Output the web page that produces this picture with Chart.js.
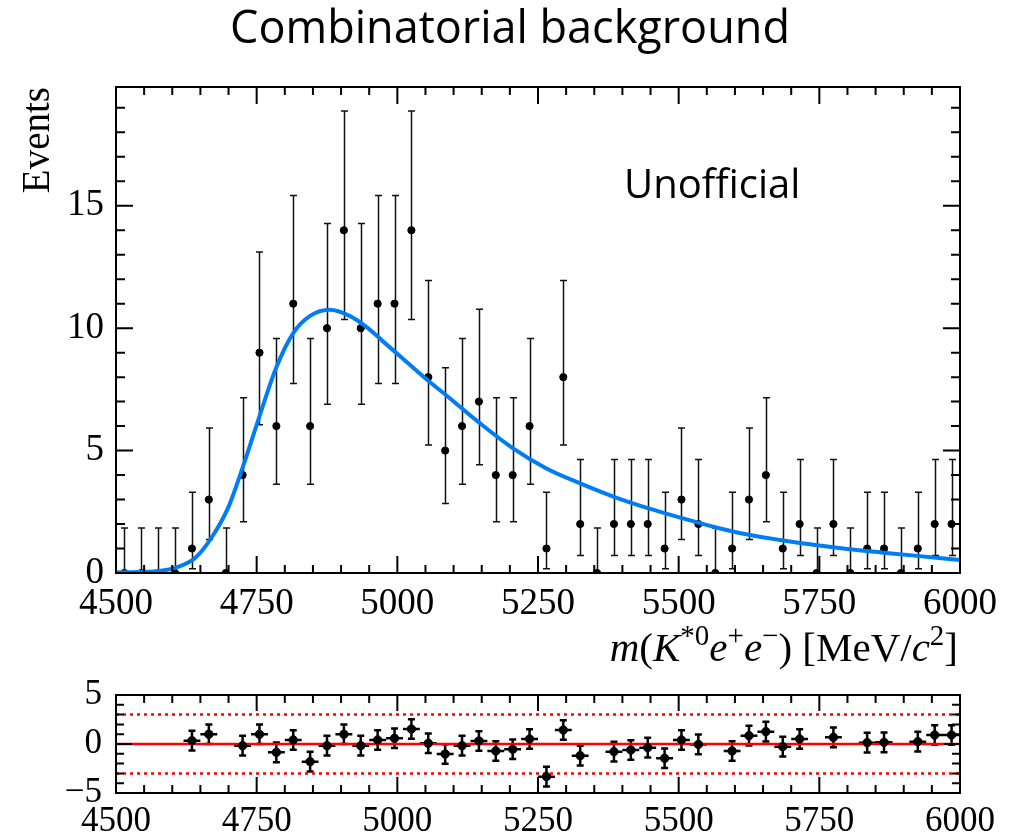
<!DOCTYPE html>
<html>
<head>
<meta charset="utf-8">
<script src="https://cdn.jsdelivr.net/npm/chart.js@4/dist/chart.umd.min.js"></script>
<style>
  body { margin: 0; background: #fff; width: 1020px; height: 834px; overflow: hidden; position: relative; }
  canvas { position: absolute; left: 0; }
  #top { top: 0; }
  #pull { top: 660px; }
</style>
</head>
<body>
<canvas id="top" width="1020" height="680"></canvas>
<canvas id="pull" width="1020" height="174"></canvas>
<script>
// bins of 30 MeV between 4500 and 6000
const binCenters = [4515, 4545, 4575, 4605, 4635, 4665, 4695, 4725, 4755, 4785,
                    4815, 4845, 4875, 4905, 4935, 4965, 4995, 5025, 5055, 5085,
                    5115, 5145, 5175, 5205, 5235, 5265, 5295, 5325, 5355, 5385,
                    5415, 5445, 5475, 5505, 5535, 5565, 5595, 5625, 5655, 5685,
                    5715, 5745, 5775, 5805, 5835, 5865, 5895, 5925, 5955, 5985];
const counts = [0, 0, 0, 0, 1, 3, 0, 4, 9, 6,
                11, 6, 10, 14, 10, 11, 11, 14, 8, 5,
                6, 7, 4, 4, 6, 1, 8, 2, 0, 2,
                2, 2, 1, 3, 2, 0, 1, 3, 4, 1,
                2, 0, 2, 0, 1, 1, 0, 1, 2, 2];
// lower / upper ends of the error bars
const errLow = [0, 0, 0, 0, 0.17, 1.37, 0, 2.09, 6.06, 3.62,
                7.74, 3.62, 6.89, 10.35, 6.89, 7.74, 7.74, 10.35, 5.23, 2.84,
                3.62, 4.42, 2.09, 2.09, 3.62, 0.17, 5.23, 0.71, 0, 0.71,
                0.71, 0.71, 0.17, 1.37, 0.71, 0, 0.17, 1.37, 2.09, 0.17,
                0.71, 0, 0.71, 0, 0.17, 0.17, 0, 0.17, 0.71, 0.71];
const errHigh = [1.84, 1.84, 1.84, 1.84, 3.30, 5.92, 1.84, 7.16, 13.11, 9.58,
                 15.42, 9.58, 14.27, 18.87, 14.27, 15.42, 15.42, 18.87, 11.95, 8.38,
                 9.58, 10.77, 7.16, 7.16, 9.58, 3.30, 11.95, 4.64, 1.84, 4.64,
                 4.64, 4.64, 3.30, 5.92, 4.64, 1.84, 3.30, 5.92, 7.16, 3.30,
                 4.64, 1.84, 4.64, 1.84, 3.30, 3.30, 1.84, 3.30, 4.64, 4.64];
const pulls = [null, null, null, null, 0.34, 0.99, null, -0.17, 0.99, -0.85,
               0.41, -1.8, -0.17, 0.99, -0.17, 0.41, 0.58, 1.53, 0.07, -1.02,
               -0.17, 0.31, -0.71, -0.54, 0.51, -3.33, 1.43, -1.19, null, -0.78,
               -0.61, -0.37, -1.46, 0.41, -0.04, null, -0.71, 0.85, 1.26, -0.27,
               0.51, null, 0.68, null, 0.14, 0.17, null, 0.24, 0.92, 0.92];
const fitMass = [4500, 4540, 4580, 4610, 4640, 4670, 4700, 4725, 4755, 4785,
                 4815, 4845, 4880, 4915, 4945, 4975, 5005, 5055, 5090, 5145,
                 5205, 5265, 5325, 5385, 5445, 5505, 5565, 5620, 5680, 5740,
                 5800, 5860, 5915, 6000];
const fitEvents = [0.02, 0.04, 0.09, 0.25, 0.6, 1.45, 2.7, 4.3, 6.4, 8.4,
                   9.8, 10.5, 10.75, 10.5, 10.05, 9.45, 8.85, 7.85, 7.2, 6.15,
                   5.1, 4.27, 3.66, 3.11, 2.65, 2.25, 1.87, 1.58, 1.35, 1.15,
                   0.98, 0.84, 0.72, 0.53];
const xTicks = [4500, 4750, 5000, 5250, 5500, 5750, 6000];
const yTicks = [0, 5, 10, 15];
const pullTicks = [-5, 0, 5];
const pullBand = 3;

const serif = 'Liberation Serif';
const plain = v => v < 0 ? '\u2212' + Math.abs(v) : String(v);

// inward ticks on all four sides plus the frame
const frameTicks = {
  id: 'frameTicks',
  afterDatasetsDraw(chart, args, o) {
    const { ctx, chartArea: a, scales: { x, y } } = chart;
    ctx.save();
    ctx.strokeStyle = '#000';
    ctx.lineWidth = 2;
    ctx.beginPath();
    const nx = Math.round((x.max - x.min) / o.xMinor);
    for (let i = 0; i <= nx; i++) {
      const px = x.getPixelForValue(x.min + i * o.xMinor);
      const len = i % o.xEvery === 0 ? o.xMajLen : o.xMinLen;
      ctx.moveTo(px, a.bottom); ctx.lineTo(px, a.bottom - len);
      ctx.moveTo(px, a.top); ctx.lineTo(px, a.top + len);
    }
    for (let v = Math.ceil(y.min); v <= y.max; v++) {
      const py = y.getPixelForValue(v);
      const len = v % o.yEvery === 0 ? o.yMajLen : o.yMinLen;
      ctx.moveTo(a.left, py); ctx.lineTo(a.left + len, py);
      ctx.moveTo(a.right, py); ctx.lineTo(a.right - len, py);
    }
    ctx.stroke();
    ctx.strokeRect(a.left, a.top, a.right - a.left, a.bottom - a.top);
    ctx.restore();
  }
};

const countBars = {
  id: 'countBars',
  beforeDatasetsDraw(chart) {
    const { ctx, chartArea: a, scales: { x, y } } = chart;
    ctx.save();
    ctx.beginPath();
    ctx.rect(a.left, a.top, a.right - a.left, a.bottom - a.top);
    ctx.clip();
    ctx.strokeStyle = '#111';
    ctx.lineWidth = 1.5;
    ctx.beginPath();
    binCenters.forEach((m, i) => {
      const px = Math.round(x.getPixelForValue(m)) + 0.5;
      const lo = y.getPixelForValue(errLow[i]);
      const hi = y.getPixelForValue(errHigh[i]);
      ctx.moveTo(px, lo); ctx.lineTo(px, hi);
      ctx.moveTo(px - 3.5, hi); ctx.lineTo(px + 3.5, hi);
      ctx.moveTo(px - 3.5, lo); ctx.lineTo(px + 3.5, lo);
    });
    ctx.stroke();
    ctx.restore();
  },
  afterDraw(chart) {
    const { ctx, scales: { x, y } } = chart;
    ctx.save();
    ctx.fillStyle = '#000';
    // watermark
    ctx.font = '40px "Open Sans"';
    ctx.textBaseline = 'alphabetic';
    ctx.fillText('Unofficial', x.getPixelForValue(5403), y.getPixelForValue(15.3));
    // axis title with italics and superscripts
    const size = 41;
    const parts = [
      ['m', 'italic'], ['(', ''], ['K', 'italic'], ['*0', 'sup'], ['e', 'italic'], ['+', 'sup'],
      ['e', 'italic'], ['\u2212', 'sup'], [') [MeV/', ''], ['c', 'italic'], ['2', 'sup'], [']', '']
    ];
    const fontFor = s => s === 'italic' ? `italic ${size}px ${serif}`
      : s === 'sup' ? `${Math.round(size * 0.7)}px ${serif}` : `${size}px ${serif}`;
    let w = 0;
    parts.forEach(([t, s]) => { ctx.font = fontFor(s); w += ctx.measureText(t).width; });
    let cx = 958 - w;
    const base = 661;
    parts.forEach(([t, s]) => {
      ctx.font = fontFor(s);
      ctx.fillText(t, cx, s === 'sup' ? base - size * 0.38 : base);
      cx += ctx.measureText(t).width;
    });
    ctx.restore();
  }
};

const pullBars = {
  id: 'pullBars',
  beforeDatasetsDraw(chart) {
    const { ctx, scales: { x, y } } = chart;
    ctx.save();
    ctx.strokeStyle = '#000';
    ctx.lineWidth = 2.5;
    ctx.beginPath();
    binCenters.forEach((m, i) => {
      if (pulls[i] === null) return;
      const px = x.getPixelForValue(m);
      const py = y.getPixelForValue(pulls[i]);
      const lo = y.getPixelForValue(pulls[i] - 1);
      const hi = y.getPixelForValue(pulls[i] + 1);
      ctx.moveTo(x.getPixelForValue(m - 15), py); ctx.lineTo(x.getPixelForValue(m + 15), py);
      ctx.moveTo(px, lo); ctx.lineTo(px, hi);
      ctx.moveTo(px - 3.5, lo); ctx.lineTo(px + 3.5, lo);
      ctx.moveTo(px - 3.5, hi); ctx.lineTo(px + 3.5, hi);
    });
    ctx.stroke();
    ctx.restore();
  }
};

const tickFont = { family: serif, size: 37 };
// empty right-hand axis, only reserves the margin so the title centres on the page
const spacer = {
  position: 'right', min: 0, max: 1,
  afterFit: s => { s.width = 60; },
  grid: { display: false, drawTicks: false },
  border: { display: false },
  ticks: { display: false }
};

new Chart(document.getElementById('top'), {
  type: 'scatter',
  data: {
    datasets: [
      {
        type: 'line',
        data: fitMass.map((m, i) => ({ x: m, y: fitEvents[i] })),
        borderColor: 'rgb(0,125,245)',
        borderWidth: 4,
        pointRadius: 0,
        cubicInterpolationMode: 'monotone',
        fill: false,
        order: 0
      },
      {
        data: binCenters.map((m, i) => ({ x: m, y: counts[i] })),
        backgroundColor: '#000',
        borderColor: '#000',
        pointRadius: 3.6,
        clip: 0,
        order: 1
      }
    ]
  },
  options: {
    responsive: false,
    animation: false,
    layout: { padding: 0 },
    plugins: {
      legend: { display: false },
      tooltip: { enabled: false },
      title: {
        display: true,
        text: 'Combinatorial background',
        color: '#000',
        font: { family: 'Open Sans', size: 45, weight: 'normal', lineHeight: 1.2 },
        padding: { top: 3, bottom: 30 }
      },
      frameTicks: { xMinor: 50, xEvery: 5, xMajLen: 17, xMinLen: 8, yEvery: 5, yMajLen: 17, yMinLen: 9 }
    },
    scales: {
      x: {
        type: 'linear', min: 4500, max: 6000,
        afterBuildTicks: s => { s.ticks = xTicks.map(v => ({ value: v })); },
        afterFit: s => { s.height = 107; },
        grid: { display: false, drawTicks: false },
        border: { display: false },
        ticks: { font: tickFont, color: '#000', padding: 9, maxRotation: 0, autoSkip: false, callback: plain }
      },
      y: {
        type: 'linear', min: 0, max: 19.85,
        afterBuildTicks: s => { s.ticks = yTicks.map(v => ({ value: v })); },
        afterFit: s => { s.width = 116; },
        grid: { display: false, drawTicks: false },
        border: { display: false },
        ticks: { font: tickFont, color: '#000', padding: 12, callback: plain },
        title: {
          display: true, text: 'Events', align: 'end', color: '#000',
          font: { family: serif, size: 39 }, padding: { top: 15, bottom: 0 }
        }
      },
      yRight: spacer
    }
  },
  plugins: [countBars, frameTicks]
});

new Chart(document.getElementById('pull'), {
  type: 'scatter',
  data: {
    datasets: [
      {
        data: binCenters.map((m, i) => ({ x: m, y: pulls[i] })).filter(p => p.y !== null),
        backgroundColor: '#000',
        borderColor: '#000',
        pointRadius: 4.2,
        order: 0
      },
      {
        type: 'line',
        data: [{ x: 4500, y: 0 }, { x: 6000, y: 0 }],
        borderColor: '#ff0000', borderWidth: 2.5, pointRadius: 0, order: 1
      },
      {
        type: 'line',
        data: [{ x: 4500, y: pullBand }, { x: 6000, y: pullBand }],
        borderColor: '#ff0000', borderWidth: 2.5, borderDash: [3, 4], pointRadius: 0, order: 1
      },
      {
        type: 'line',
        data: [{ x: 4500, y: -pullBand }, { x: 6000, y: -pullBand }],
        borderColor: '#ff0000', borderWidth: 2.5, borderDash: [3, 4], pointRadius: 0, order: 1
      }
    ]
  },
  options: {
    responsive: false,
    animation: false,
    layout: { padding: { left: 0, right: 0, top: 35, bottom: 0 } },
    plugins: {
      legend: { display: false },
      tooltip: { enabled: false },
      frameTicks: { xMinor: 50, xEvery: 5, xMajLen: 16, xMinLen: 8, yEvery: 5, yMajLen: 16, yMinLen: 8 }
    },
    scales: {
      x: {
        type: 'linear', min: 4500, max: 6000,
        afterBuildTicks: s => { s.ticks = xTicks.map(v => ({ value: v })); },
        afterFit: s => { s.height = 41; },
        grid: { display: false, drawTicks: false },
        border: { display: false },
        ticks: { font: { family: serif, size: 35 }, color: '#000', padding: 8, maxRotation: 0, autoSkip: false, callback: plain }
      },
      y: {
        type: 'linear', min: -5, max: 5,
        afterBuildTicks: s => { s.ticks = pullTicks.map(v => ({ value: v })); },
        afterFit: s => { s.width = 116; },
        grid: { display: false, drawTicks: false },
        border: { display: false },
        ticks: { font: { family: serif, size: 35 }, color: '#000', padding: 14, callback: plain }
      },
      yRight: spacer
    }
  },
  plugins: [pullBars, frameTicks]
});
</script>
</body>
</html>
